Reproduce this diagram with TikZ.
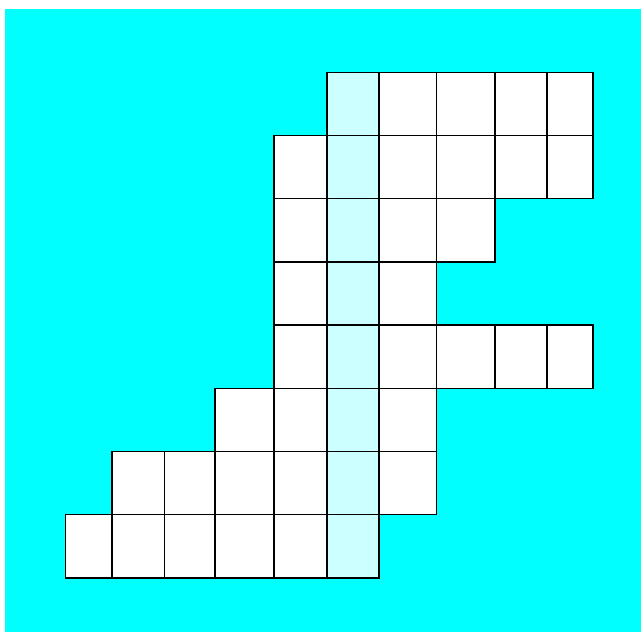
\documentclass[tikz,border=0pt]{standalone}
\usepackage{tikz}
\definecolor{bgcyan}{HTML}{00FFFF}
\definecolor{palecyan}{HTML}{CCFFFF}
\tikzset{
    backdrop/.style={fill=bgcyan},
    cell/.style={draw=black,line width=1.4pt,line join=miter}
}
\begin{document}
\begin{tikzpicture}[x=1pt,y=-1pt]
\useasboundingbox (0,0) rectangle (641,633);
\fill[backdrop] (5,9) rectangle (641,632);
\def\colx{{65.7,112,164.3,215,274,327,379,436.7,495,547,593}}
% row / first column / last column
\foreach \r/\a/\b in {0/5/9,1/4/9,2/4/7,3/4/6,4/4/9,5/3/6,6/1/6,7/0/5} {
  \foreach \c in {\a,...,\b} {
    \pgfmathsetmacro\xl{\colx[\c]}
    \pgfmathsetmacro\xr{\colx[\c+1]}
    \pgfmathsetmacro\yt{72.3+63.2*\r}
    \ifnum\c=5 \def\cellfill{palecyan}\else\def\cellfill{white}\fi
    \draw[cell,fill=\cellfill] (\xl,\yt) rectangle (\xr,\yt+63.2);
  }
}
\end{tikzpicture}
\end{document}
